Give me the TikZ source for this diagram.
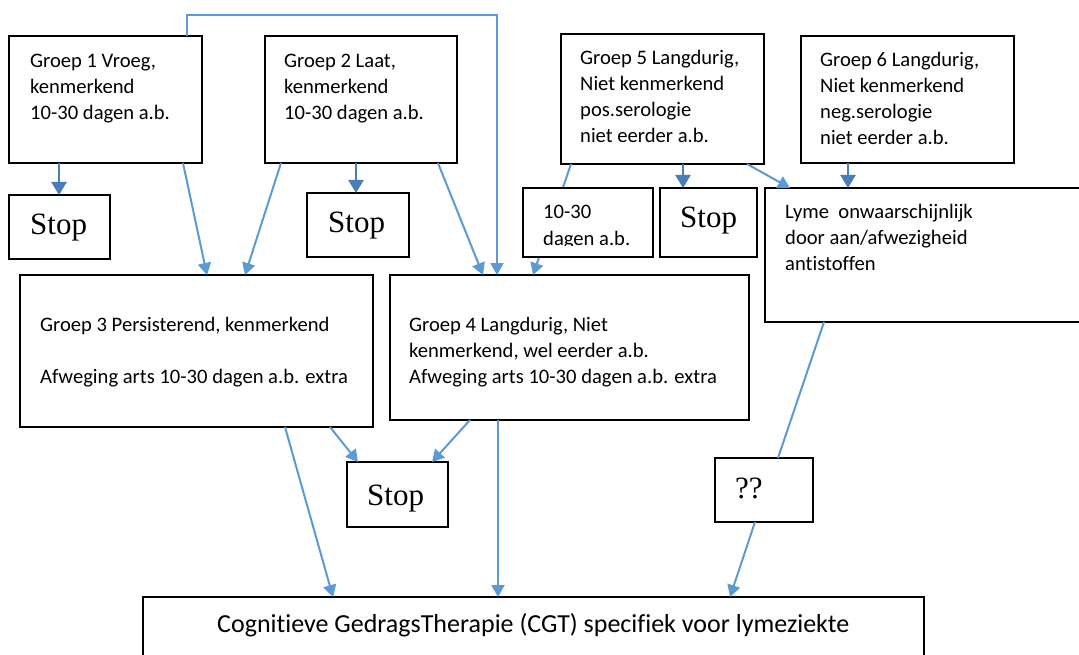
\documentclass[tikz,border=0pt]{standalone}
\usepackage{fontspec}
\setmainfont{Carlito}[Ligatures=NoCommon]
\newfontfamily\stopfont{Liberation Serif}
\usetikzlibrary{arrows.meta}
\definecolor{arr}{RGB}{91,155,213}
\definecolor{arrd}{RGB}{74,126,187}
\begin{document}
\begin{tikzpicture}[x=1pt,y=-1pt,
  box/.style={draw=black, line width=1.5pt, fill=white, inner sep=0pt, outer sep=0pt, anchor=north west},
  txt/.style={anchor=base west, inner sep=0pt, align=left, font=\fontsize{20.6}{26}\selectfont},
  stoptxt/.style={anchor=base west, inner sep=0pt, font=\stopfont\fontsize{31}{32}\selectfont},
  arrow/.style={draw=arr, line width=2pt, -{Triangle[width=13pt,length=12pt]}},
  arrowd/.style={draw=arrd, line width=2.5pt, -{Triangle[width=15pt,length=13pt]}},
  plain/.style={draw=arr, line width=2pt}]
\useasboundingbox (0,0) rectangle (1079,655);
\fill[white] (0,0) rectangle (1079,655);

% connector under the 10-30 box
\node[box, minimum width=359, minimum height=145] (g4) at (390,275) {};
\node[box, minimum width=203, minimum height=130] (g5) at (561,34) {};
\draw[arrow] ([xshift=10]g5.south west) -- ([xshift=143]g4.north west);

% boxes
\node[box, minimum width=193, minimum height=127] (g1) at (9,36) {};
\node[box, minimum width=192, minimum height=127] (g2) at (265,36) {};
\node[box, minimum width=213, minimum height=127] (g6) at (801,36) {};
\node[box, minimum width=101, minimum height=64] (s1) at (9,195) {};
\node[box, minimum width=102, minimum height=64] (s2) at (307,193) {};
\node[box, minimum width=130, minimum height=69] (t1030) at (523,188) {};
\node[box, minimum width=97, minimum height=69] (s3) at (660,188) {};
\node[box, minimum width=330, minimum height=134] (lyme) at (765,188) {};
\node[box, minimum width=353, minimum height=152] (g3) at (20,275) {};
\node[box, minimum width=101, minimum height=65] (s4) at (347,462) {};
\node[box, minimum width=98, minimum height=64] (qq) at (715,458) {};
\node[box, minimum width=781, minimum height=90] (cgt) at (143,597) {};

% texts (anchor = baseline of the last line)
\node[txt] (tg1) at (30,120) {Groep 1 Vroeg,\\kenmerkend\\10-30 dagen a.b.};
\node[txt] (tg2) at (284,120) {Groep 2 Laat,\\kenmerkend\\10-30 dagen a.b.};
\node[txt] (tg5) at (580,143) {Groep 5 Langdurig,\\Niet kenmerkend\\pos.serologie\\niet eerder a.b.};
\node[txt] (tg6) at (820,145) {Groep 6 Langdurig,\\Niet kenmerkend\\neg.serologie\\niet eerder a.b.};
\begin{scope}
  \clip (523,188) rectangle (653,246);
  \node[txt] (tt) at (543,245) {10-30\\dagen a.b.};
\end{scope}
\node[txt] (tly) at (785,270) {Lyme\ \ onwaarschijnlijk\\door aan/afwezigheid\\antistoffen};
\node[txt] (tg3) at (40,383) {Groep 3 Persisterend, kenmerkend\\[26pt]Afweging arts 10-30 dagen a.b. extra};
\node[txt] (tg4) at (409,383) {Groep 4 Langdurig, Niet\\kenmerkend, wel eerder a.b.\\Afweging arts 10-30 dagen a.b. extra};
\node[txt, font=\fontsize{26}{30}\selectfont] (tcgt) at (217,632) {Cognitieve GedragsTherapie (CGT) specifiek voor lymeziekte};
\node[stoptxt] (ts1) at (30,235) {Stop};
\node[stoptxt] (ts2) at (328,233) {Stop};
\node[stoptxt] (ts3) at (680,228) {Stop};
\node[stoptxt] (ts4) at (367,505) {Stop};
\node[stoptxt] (tqq) at (735,498) {??};

% connectors
\coordinate (c1) at (187,15);
\coordinate (c2) at (497,15);
\draw[arrowd] ([xshift=50]g1.south west) -- ([xshift=50]s1.north west);
\draw[arrow] ([xshift=174]g1.south west) -- ([xshift=187]g3.north west);
\draw[arrow] ([xshift=16]g2.south west) -- ([xshift=225]g3.north west);
\draw[arrowd] ([xshift=91]g2.south west) -- ([xshift=49]s2.north west);
\draw[arrow] ([xshift=173]g2.south west) -- ([xshift=93]g4.north west);
\draw[arrow] ([xshift=178]g1.north west) -- (c1) -- (c2) -- ([xshift=107]g4.north west);
\draw[arrowd] ([xshift=122]g5.south west) -- ([xshift=23]s3.north west);
\draw[arrow] ([xshift=186]g5.south west) -- ([xshift=25]lyme.north west);
\draw[arrowd] ([xshift=47]g6.south west) -- ([xshift=83]lyme.north west);
\draw[arrow] ([xshift=265]g3.south west) -- ([xshift=190]cgt.north west);
\draw[arrow] ([xshift=310]g3.south west) -- ([xshift=11]s4.north west);
\draw[arrow] ([xshift=80]g4.south west) -- ([xshift=85]s4.north west);
\draw[arrow] ([xshift=108]g4.south west) -- ([xshift=355]cgt.north west);
\draw[plain] ([xshift=59]lyme.south west) -- ([xshift=63]qq.north west);
\draw[arrow] ([xshift=40]qq.south west) -- ([xshift=587]cgt.north west);
\end{tikzpicture}
\end{document}
